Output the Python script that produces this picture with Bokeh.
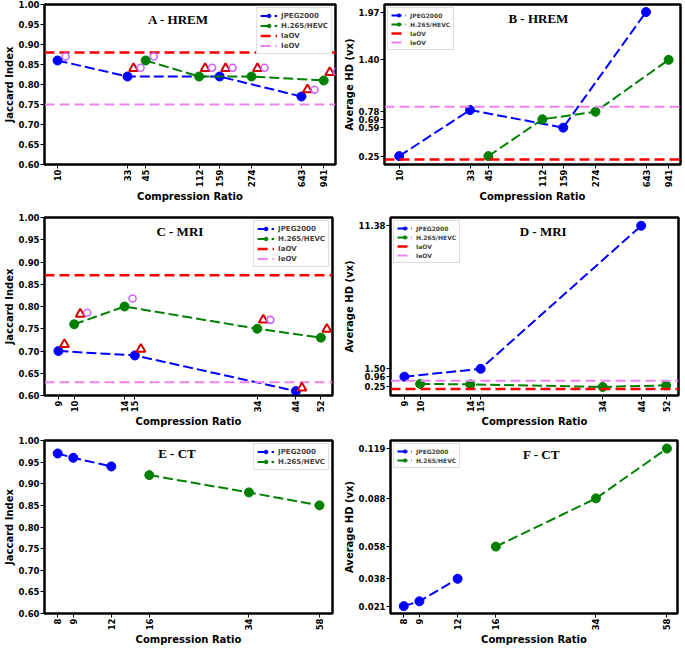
import math
from bokeh.plotting import figure
from bokeh.layouts import column, row
from bokeh.models import FixedTicker, PrintfTickFormatter, Label, Legend, LegendItem, Range1d
from bokeh.embed import file_html
from bokeh.resources import INLINE

# ---------------- data ----------------
# A - HREM (Jaccard)
A_cr_jpeg = [10, 33, 159, 643]
A_val_jpeg = [0.86, 0.82, 0.82, 0.77]
A_cr_hevc = [45, 112, 274, 941]
A_val_hevc = [0.86, 0.82, 0.82, 0.81]
A_iaov = 0.88
A_ieov = 0.75
A_tri_cr = [33, 112, 159, 274, 643, 941]
A_tri_val = [0.84, 0.84, 0.84, 0.84, 0.787, 0.83]
A_circ_cr = [10, 33, 45, 112, 159, 274, 643, 941]
A_circ_val = [0.87, 0.842, 0.87, 0.842, 0.842, 0.842, 0.787, 0.832]
AB_xticks = [10, 33, 45, 112, 159, 274, 643, 941]
jac_ticks = [0.60, 0.65, 0.70, 0.75, 0.80, 0.85, 0.90, 0.95, 1.00]

# B - HREM (Average HD)
B_cr_jpeg = [10, 33, 159, 643]
B_val_jpeg = [0.25, 0.80, 0.59, 1.97]
B_cr_hevc = [45, 112, 274, 941]
B_val_hevc = [0.25, 0.69, 0.78, 1.40]
B_iaov = 0.21
B_ieov = 0.84
B_yticks = [0.25, 0.59, 0.69, 0.78, 1.40, 1.97]

# C - MRI (Jaccard)
C_cr_jpeg = [9, 15, 44]
C_val_jpeg = [0.70, 0.69, 0.61]
C_cr_hevc = [10, 14, 34, 52]
C_val_hevc = [0.76, 0.80, 0.75, 0.73]
C_iaov = 0.87
C_ieov = 0.63
C_tri_cr = [9, 15, 44, 10, 34, 52]
C_tri_val = [0.715, 0.704, 0.617, 0.783, 0.770, 0.749]
C_circ_cr = [10, 14, 34]
C_circ_val = [0.786, 0.818, 0.770]
CD_xticks = [9, 10, 14, 15, 34, 44, 52]

# D - MRI (Average HD)
D_cr_jpeg = [9, 15, 44]
D_val_jpeg = [0.96, 1.50, 11.38]
D_cr_hevc = [10, 14, 34, 52]
D_val_hevc = [0.46, 0.43, 0.25, 0.36]
D_iaov = 0.11
D_ieov = 0.67
D_yticks = [0.25, 0.96, 1.50, 11.38]

# E - CT (Jaccard)
E_cr_jpeg = [8, 9, 12]
E_val_jpeg = [0.97, 0.96, 0.94]
E_cr_hevc = [16, 34, 58]
E_val_hevc = [0.92, 0.88, 0.85]
EF_xticks = [8, 9, 12, 16, 34, 58]

# F - CT (Average HD)
F_cr_jpeg = [8, 9, 12]
F_val_jpeg = [0.021, 0.024, 0.038]
F_cr_hevc = [16, 34, 58]
F_val_hevc = [0.058, 0.088, 0.119]
F_yticks = [0.021, 0.038, 0.058, 0.088, 0.119]

BLUE = "#0000ff"
GREEN = "#008000"
RED = "#ff0000"
VIOLET = "#ee82ee"
TRI = "#d40000"
CIRC = "#cc66ff"


def make_panel(title, cr_j, v_j, cr_h, v_h, xticks, yticks, yfmt, xr, yr, ylabel,
               width, height, bl, br, bt, bb, legend_loc, legend_font,
               title_fx, title_fy, iaov=None, ieov=None,
               tri_cr=None, tri_val=None, circ_cr=None, circ_val=None):
    p = figure(width=width, height=height, x_axis_type="log",
               x_range=Range1d(*xr), y_range=Range1d(*yr),
               output_backend="svg", toolbar_location=None,
               min_border_left=bl, min_border_right=br,
               min_border_top=bt, min_border_bottom=bb)
    p.grid.visible = False
    p.outline_line_color = "black"
    p.outline_line_width = 2.5
    p.outline_line_alpha = 1.0

    p.xaxis.ticker = FixedTicker(ticks=xticks, minor_ticks=[])
    p.xaxis.formatter = PrintfTickFormatter(format="%d")
    p.xaxis.major_label_orientation = math.pi / 2
    p.yaxis.ticker = FixedTicker(ticks=yticks, minor_ticks=[])
    p.yaxis.formatter = PrintfTickFormatter(format=yfmt)
    p.xaxis.axis_label = "Compression Ratio"
    p.yaxis.axis_label = ylabel
    for ax in (p.xaxis, p.yaxis):
        ax.axis_label_text_font = "DejaVu Sans"
        ax.axis_label_text_font_style = "bold"
        ax.axis_label_text_font_size = "10px"
        ax.axis_label_text_color = "black"
        ax.axis_label_standoff = 1
        ax.major_label_text_font = "DejaVu Sans"
        ax.major_label_text_font_style = "bold"
        ax.major_label_text_font_size = "8.5px"
        ax.major_label_text_color = "black"
        ax.major_label_standoff = 1
        ax.major_tick_out = 4
        ax.major_tick_in = 0
        ax.major_tick_line_color = "black"
        ax.minor_tick_line_color = None
        ax.axis_line_color = "black"

    items = []
    lj = p.line(cr_j, v_j, line_color=BLUE, line_width=2, line_dash="10 4")
    sj = p.scatter(cr_j, v_j, marker="circle", size=9, fill_color=BLUE, line_color=BLUE)
    items.append(LegendItem(label="JPEG2000", renderers=[lj, sj]))
    lh = p.line(cr_h, v_h, line_color=GREEN, line_width=2, line_dash="10 4")
    sh = p.scatter(cr_h, v_h, marker="circle", size=9, fill_color=GREEN, line_color=GREEN)
    items.append(LegendItem(label="H.265/HEVC", renderers=[lh, sh]))
    if iaov is not None:
        la = p.line([xr[0], xr[1]], [iaov, iaov], line_color=RED, line_width=2.5, line_dash="10 5")
        items.append(LegendItem(label="IaOV", renderers=[la]))
    if ieov is not None:
        le = p.line([xr[0], xr[1]], [ieov, ieov], line_color=VIOLET, line_width=2, line_dash="10 5")
        items.append(LegendItem(label="IeOV", renderers=[le]))

    frame_w = width - max(bl, 45) - br
    dec_per_px = math.log10(xr[1] / xr[0]) / frame_w
    if tri_cr:
        tx = [c * 10 ** (6 * dec_per_px) for c in tri_cr]
        p.scatter(tx, tri_val, marker="triangle", size=9, fill_color="white",
                  line_color=TRI, line_width=2)
    if circ_cr:
        cx = [c * 10 ** ((13 if c in (tri_cr or []) else 8) * dec_per_px) for c in circ_cr]
        p.scatter(cx, circ_val, marker="circle", size=7, fill_color="white", fill_alpha=0,
                  line_color=CIRC, line_width=1.6)

    fs = legend_font
    lh_px = fs + 2
    legend = Legend(items=items, location=legend_loc,
                    label_text_font="DejaVu Sans", label_text_font_style="bold",
                    label_text_font_size=f"{fs}px", label_height=lh_px,
                    glyph_height=lh_px, glyph_width=int(fs * 2.5), label_standoff=4,
                    spacing=1, padding=3, margin=3,
                    border_line_color="#bbbbbb", border_line_width=1,
                    background_fill_color="white", background_fill_alpha=1.0)
    p.add_layout(legend)

    lx = 10 ** (math.log10(xr[0]) + title_fx * math.log10(xr[1] / xr[0]))
    ly = yr[1] - title_fy * (yr[1] - yr[0])
    p.add_layout(Label(x=lx, y=ly, text=title, text_font="Liberation Serif",
                       text_font_style="bold", text_font_size="13px",
                       text_align="center", text_baseline="middle", text_color="black"))
    return p


LW, RW = 340, 345
H1, H2, H3 = 205, 225, 218

pA = make_panel("A - HREM", A_cr_jpeg, A_val_jpeg, A_cr_hevc, A_val_hevc, AB_xticks,
                jac_ticks, "%.2f", (8.0, 1150), (0.60, 1.00), "Jaccard Index",
                LW, H1, 35, 5, 4, 38, "top_right", 7, 0.46, 0.093,
                A_iaov, A_ieov, A_tri_cr, A_tri_val, A_circ_cr, A_circ_val)
pB = make_panel("B - HREM", B_cr_jpeg, B_val_jpeg, B_cr_hevc, B_val_hevc, AB_xticks,
                B_yticks, "%.2f", (7.8, 1150), (0.15, 2.06), "Average HD (vx)",
                RW, H1, 44, 5, 3, 38, "top_left", 6, 0.52, 0.086,
                B_iaov, B_ieov)
pC = make_panel("C - MRI", C_cr_jpeg, C_val_jpeg, C_cr_hevc, C_val_hevc, CD_xticks,
                jac_ticks, "%.2f", (8.2, 56.2), (0.60, 1.00), "Jaccard Index",
                LW, H2, 35, 8, 12, 33, "top_right", 7, 0.47, 0.08,
                C_iaov, C_ieov, C_tri_cr, C_tri_val, C_circ_cr, C_circ_val)
pD = make_panel("D - MRI", D_cr_jpeg, D_val_jpeg, D_cr_hevc, D_val_hevc, CD_xticks,
                D_yticks, "%.2f", (8.2, 56.5), (-0.34, 11.95), "Average HD (vx)",
                RW, H2, 44, 7, 10, 33, "top_left", 6, 0.53, 0.078,
                D_iaov, D_ieov)
pE = make_panel("E - CT", E_cr_jpeg, E_val_jpeg, E_cr_hevc, E_val_hevc, EF_xticks,
                jac_ticks, "%.2f", (7.24, 64), (0.60, 1.00), "Jaccard Index",
                LW, H3, 35, 8, 10, 33, "top_right", 7, 0.46, 0.074)
pF = make_panel("F - CT", F_cr_jpeg, F_val_jpeg, F_cr_hevc, F_val_hevc, EF_xticks,
                F_yticks, "%.3f", (7.24, 62.8), (0.0164, 0.124), "Average HD (vx)",
                RW, H3, 44, 8, 4, 33, "top_left", 6, 0.526, 0.083)

layout = column(row(pA, pB), row(pC, pD), row(pE, pF))
open("out.html", "w").write(file_html(layout, INLINE))
